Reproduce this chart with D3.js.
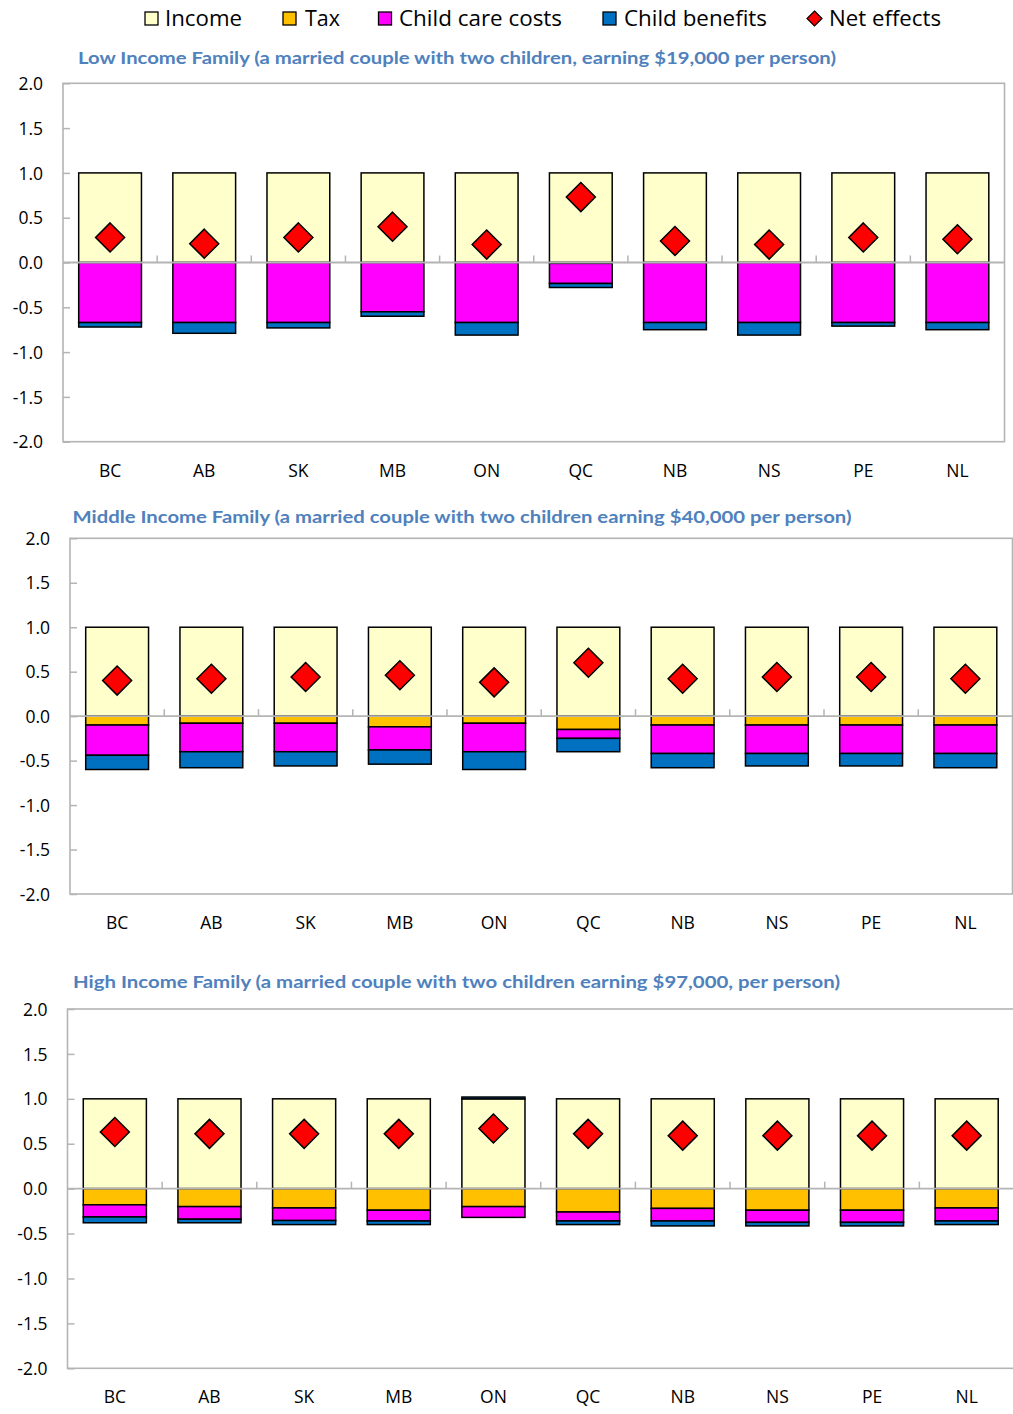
<!DOCTYPE html>
<html>
<head>
<meta charset="utf-8">
<script src="https://cdn.jsdelivr.net/npm/d3@7"></script>
<style>
  html, body { margin: 0; padding: 0; background: #ffffff; }
  svg { display: block; }
</style>
</head>
<body>
<svg id="chart" width="1013" height="1414"></svg>
<script>
// ---------------- DATA ----------------
const categories = ["BC", "AB", "SK", "MB", "ON", "QC", "NB", "NS", "PE", "NL"];
const yTickValues = [2.0, 1.5, 1.0, 0.5, 0.0, -0.5, -1.0, -1.5, -2.0];
const seriesNames = ["Income", "Tax", "Child care costs", "Child benefits", "Net effects"];

const lowTitle = "Low Income Family (a married couple with two children, earning $19,000 per person)";
const lowIncome    = [1, 1, 1, 1, 1, 1, 1, 1, 1, 1];
const lowTax       = [0, 0, 0, 0, 0, -0.01, 0, 0, 0, 0];
const lowChildCare = [-0.67, -0.67, -0.67, -0.55, -0.67, -0.224, -0.67, -0.67, -0.67, -0.67];
const lowBenefits  = [-0.05, -0.12, -0.06, -0.05, -0.14, -0.045, -0.08, -0.14, -0.04, -0.08];
const lowNet       = [0.28, 0.21, 0.28, 0.40, 0.20, 0.73, 0.24, 0.20, 0.28, 0.26];

const midTitle = "Middle Income Family (a married couple with two children earning $40,000 per person)";
const midIncome    = [1, 1, 1, 1, 1, 1, 1, 1, 1, 1];
const midTax       = [-0.10, -0.08, -0.08, -0.12, -0.08, -0.15, -0.10, -0.10, -0.10, -0.10];
const midChildCare = [-0.34, -0.32, -0.32, -0.26, -0.32, -0.10, -0.32, -0.32, -0.32, -0.32];
const midBenefits  = [-0.16, -0.18, -0.16, -0.16, -0.20, -0.15, -0.16, -0.14, -0.14, -0.16];
const midNet       = [0.40, 0.42, 0.44, 0.46, 0.38, 0.60, 0.42, 0.44, 0.44, 0.42];

const highTitle = "High Income Family (a married couple with two children earning $97,000, per person)";
const highIncome    = [1, 1, 1, 1, 1, 1, 1, 1, 1, 1];
const highTax       = [-0.18, -0.20, -0.215, -0.24, -0.20, -0.26, -0.22, -0.24, -0.24, -0.215];
const highChildCare = [-0.135, -0.14, -0.14, -0.12, -0.12, -0.10, -0.14, -0.135, -0.135, -0.145];
const highBenefits  = [-0.065, -0.04, -0.045, -0.04, 0.02, -0.04, -0.055, -0.04, -0.04, -0.04];
const highNet       = [0.63, 0.61, 0.61, 0.61, 0.67, 0.61, 0.59, 0.59, 0.59, 0.59];

// ---------------- STYLE / LAYOUT ----------------
const colors = {
  "Income": "#FFFFCC",
  "Tax": "#FFC000",
  "Child care costs": "#FF00FF",
  "Child benefits": "#0070C0",
  "Net effects": "#FF0000"
};
const keys = ["Income", "Tax", "Child care costs", "Child benefits"];
const axisGray = "#b4b4b4";
const titleColor = "#4F81BD";
const labelFont = "'Open Sans', 'Liberation Sans', sans-serif";
const titleFont = "Lato, 'Open Sans', sans-serif";

const panels = [
  { title: lowTitle, titleX: 78, titleW: 758, titleY: 64,
    left: 63, right: 1004.5, top: 83.3, bottom: 441.7,
    income: lowIncome, tax: lowTax, cc: lowChildCare, ben: lowBenefits, net: lowNet },
  { title: midTitle, titleX: 72.5, titleW: 779, titleY: 523,
    left: 70, right: 1012.5, top: 538.3, bottom: 894,
    income: midIncome, tax: midTax, cc: midChildCare, ben: midBenefits, net: midNet },
  { title: highTitle, titleX: 73, titleW: 767, titleY: 987.5,
    left: 67.5, right: 1014, top: 1009, bottom: 1368.3,
    income: highIncome, tax: highTax, cc: highChildCare, ben: highBenefits, net: highNet }
];

const svg = d3.select("#chart");

// ---------------- LEGEND ----------------
const legendItems = [
  { name: "Income", boxX: 145, textX: 165, textW: 77 },
  { name: "Tax", boxX: 283, textX: 305, textW: 35 },
  { name: "Child care costs", boxX: 378.5, textX: 399, textW: 163 },
  { name: "Child benefits", boxX: 603, textX: 624, textW: 143 },
  { name: "Net effects", boxX: 807, textX: 829, textW: 112 }
];
const lg = svg.append("g");
legendItems.forEach(it => {
  if (it.name === "Net effects") {
    const cx = it.boxX + 7.5, cy = 18.5, r = 7.5;
    lg.append("path")
      .attr("d", `M${cx},${cy - r}L${cx + r},${cy}L${cx},${cy + r}L${cx - r},${cy}Z`)
      .attr("fill", colors[it.name]).attr("stroke", "#000").attr("stroke-width", 1.2);
  } else {
    lg.append("rect").attr("x", it.boxX).attr("y", 12).attr("width", 13).attr("height", 13)
      .attr("fill", colors[it.name]).attr("stroke", "#000").attr("stroke-width", 1.3);
  }
  lg.append("text").attr("x", it.textX).attr("y", 26)
    .attr("font-family", labelFont).attr("font-size", 21).attr("fill", "#000")
    .attr("textLength", it.textW).attr("lengthAdjust", "spacingAndGlyphs")
    .text(it.name);
});

// ---------------- PANELS ----------------
panels.forEach(p => {
  const g = svg.append("g");

  const x = d3.scaleBand().domain(categories).range([p.left, p.right])
    .paddingInner(1 / 3).paddingOuter(1 / 6);
  const y = d3.scaleLinear().domain([-2, 2]).range([p.bottom, p.top]);
  const step = x.step();

  // title
  g.append("text").attr("x", p.titleX).attr("y", p.titleY)
    .attr("font-family", titleFont).attr("font-weight", "bold").attr("font-size", 17.5)
    .attr("fill", titleColor)
    .attr("textLength", p.titleW).attr("lengthAdjust", "spacingAndGlyphs")
    .text(p.title);

  // plot border
  g.append("rect").attr("x", p.left).attr("y", p.top)
    .attr("width", p.right - p.left).attr("height", p.bottom - p.top)
    .attr("fill", "none").attr("stroke", axisGray).attr("stroke-width", 1.6);

  // y axis (ticks inward, labels left)
  const yAxis = d3.axisRight(y).tickValues(yTickValues).tickSize(7)
    .tickFormat(d3.format(".1f"));
  const yg = g.append("g").attr("transform", `translate(${p.left},0)`).call(yAxis);
  yg.select(".domain").remove();
  yg.selectAll(".tick line").attr("stroke", axisGray).attr("stroke-width", 1.5);
  yg.selectAll(".tick text")
    .attr("x", -20).attr("dy", "0.35em").attr("text-anchor", "end")
    .attr("font-family", labelFont).attr("font-size", 17.5).attr("fill", "#000")
    .text(d => d3.format(".1f")(d).replace("−", "-"));

  // stacked bars
  const rows = categories.map((c, i) => ({
    cat: c,
    "Income": p.income[i], "Tax": p.tax[i],
    "Child care costs": p.cc[i], "Child benefits": p.ben[i]
  }));
  const stacked = d3.stack().keys(keys).offset(d3.stackOffsetDiverging)(rows);
  stacked.forEach(s => {
    g.append("g").selectAll("rect").data(s.filter(d => d[1] - d[0] !== 0)).join("rect")
      .attr("x", d => x(d.data.cat))
      .attr("width", x.bandwidth())
      .attr("y", d => y(Math.max(d[0], d[1])))
      .attr("height", d => Math.abs(y(d[0]) - y(d[1])))
      .attr("fill", colors[s.key])
      .attr("stroke", "#000").attr("stroke-width", 1.5);
  });

  // zero line + category ticks (drawn over bars)
  const xAxis = d3.axisTop(x).tickSize(0).tickFormat("");
  const xg = g.append("g").attr("transform", `translate(0,${y(0)})`).call(xAxis);
  xg.select(".domain").attr("stroke", axisGray).attr("stroke-width", 1.8)
    .attr("d", `M${p.left},0H${p.right}`);
  xg.selectAll(".tick").remove();
  g.append("g").selectAll("line").data(categories.slice(1)).join("line")
    .attr("x1", d => x(d) - step / 6).attr("x2", d => x(d) - step / 6)
    .attr("y1", y(0)).attr("y2", y(0) - 7)
    .attr("stroke", axisGray).attr("stroke-width", 1.5);

  // category labels
  g.append("g").selectAll("text").data(categories).join("text")
    .attr("x", d => x(d) + x.bandwidth() / 2)
    .attr("y", p.bottom + 35)
    .attr("text-anchor", "middle")
    .attr("font-family", labelFont).attr("font-size", 17.5).attr("fill", "#000")
    .text(d => d);

  // net effects diamonds
  const r = 14.5;
  g.append("g").selectAll("path").data(categories).join("path")
    .attr("d", (d, i) => {
      const cx = x(d) + x.bandwidth() / 2, cy = y(p.net[i]);
      return `M${cx},${cy - r}L${cx + r},${cy}L${cx},${cy + r}L${cx - r},${cy}Z`;
    })
    .attr("fill", colors["Net effects"]).attr("stroke", "#000").attr("stroke-width", 1.5);
});
</script>
</body>
</html>
